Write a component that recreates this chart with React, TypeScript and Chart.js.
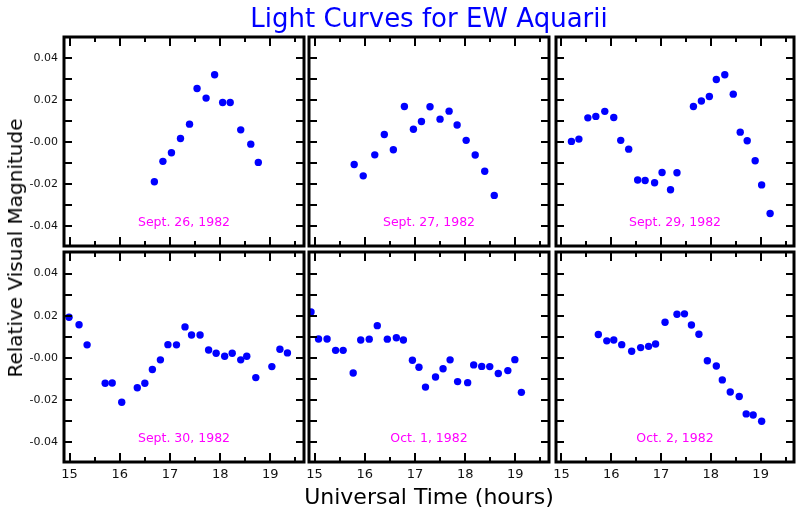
import React, { useEffect, useRef } from "react";
import { Chart, registerables } from "chart.js";

Chart.register(...registerables);
Chart.defaults.font.family = '"DejaVu Sans", sans-serif';

// ---- data (Universal Time in hours, relative visual magnitude) ----
const sept26Hours = [16.69, 16.86, 17.03, 17.21, 17.39, 17.54, 17.72, 17.89, 18.05, 18.2, 18.41, 18.61, 18.76];
const sept26Mag = [-0.0187, -0.009, -0.0049, 0.0019, 0.0087, 0.0257, 0.0211, 0.0322, 0.019, 0.019, 0.006, -0.0008, -0.0095];

const sept27Hours = [15.79, 15.97, 16.2, 16.39, 16.57, 16.79, 16.97, 17.13, 17.3, 17.5, 17.68, 17.84, 18.02, 18.2, 18.39, 18.58];
const sept27Mag = [-0.0105, -0.0159, -0.0059, 0.0038, -0.0035, 0.0171, 0.0063, 0.01, 0.017, 0.0111, 0.0149, 0.0083, 0.001, -0.006, -0.0137, -0.0252];

const sept29Hours = [15.2, 15.35, 15.53, 15.69, 15.87, 16.05, 16.19, 16.35, 16.53, 16.68, 16.87, 17.02, 17.19, 17.32, 17.65, 17.81, 17.97, 18.11, 18.28, 18.45, 18.59, 18.73, 18.89, 19.02, 19.19];
const sept29Mag = [0.0005, 0.0016, 0.0117, 0.0124, 0.0148, 0.0119, 0.001, -0.0032, -0.0179, -0.0181, -0.0192, -0.0143, -0.0225, -0.0144, 0.0171, 0.0197, 0.0219, 0.03, 0.0322, 0.023, 0.0049, 0.0008, -0.0087, -0.0202, -0.0338];

const sept30Hours = [14.99, 15.19, 15.35, 15.71, 15.85, 16.04, 16.35, 16.5, 16.65, 16.81, 16.96, 17.13, 17.3, 17.43, 17.6, 17.77, 17.92, 18.09, 18.24, 18.41, 18.53, 18.71, 19.03, 19.19, 19.34];
const sept30Mag = [0.0193, 0.0157, 0.0062, -0.012, -0.0119, -0.021, -0.0141, -0.012, -0.0055, -0.0009, 0.0063, 0.0062, 0.0147, 0.0109, 0.0109, 0.0038, 0.0022, 0.0008, 0.0022, -0.0009, 0.0008, -0.0093, -0.0041, 0.0041, 0.0024];

const oct1Hours = [14.93, 15.08, 15.25, 15.42, 15.57, 15.77, 15.92, 16.09, 16.25, 16.45, 16.63, 16.77, 16.95, 17.08, 17.21, 17.41, 17.56, 17.7, 17.85, 18.05, 18.17, 18.33, 18.49, 18.66, 18.85, 18.99, 19.12];
const oct1Mag = [0.0218, 0.009, 0.009, 0.0036, 0.0036, -0.0071, 0.0085, 0.0089, 0.0153, 0.0089, 0.0096, 0.0085, -0.0011, -0.0044, -0.0138, -0.009, -0.0051, -0.0009, -0.0112, -0.0117, -0.0033, -0.004, -0.0041, -0.0074, -0.006, -0.0008, -0.0163];

const oct2Hours = [15.74, 15.91, 16.05, 16.21, 16.41, 16.59, 16.75, 16.89, 17.08, 17.32, 17.47, 17.61, 17.76, 17.93, 18.11, 18.23, 18.39, 18.57, 18.71, 18.85, 19.02];
const oct2Mag = [0.0111, 0.0081, 0.0085, 0.0063, 0.0032, 0.0049, 0.0055, 0.0066, 0.0169, 0.0207, 0.0209, 0.0156, 0.0112, -0.0013, -0.0038, -0.0104, -0.0161, -0.0183, -0.0265, -0.027, -0.03];

const nightLabels = ["Sept. 26, 1982", "Sept. 27, 1982", "Sept. 29, 1982", "Sept. 30, 1982", "Oct. 1, 1982", "Oct. 2, 1982"];
const xTickValues = [15, 16, 17, 18, 19];
const xMinorTickValues = [15.5, 16.5, 17.5, 18.5, 19.5];
const yTickValues = [0.04, 0.02, 0, -0.02, -0.04];
const yMinorTickValues = [0.03, 0.01, -0.01, -0.03];

const nights = [
  { hours: sept26Hours, mags: sept26Mag },
  { hours: sept27Hours, mags: sept27Mag },
  { hours: sept29Hours, mags: sept29Mag },
  { hours: sept30Hours, mags: sept30Mag },
  { hours: oct1Hours, mags: oct1Mag },
  { hours: oct2Hours, mags: oct2Mag },
];

// ---- layout ----
const X_MIN = 14.89;
const X_MAX = 19.67;
const Y_MIN = -0.0493;
const Y_MAX = 0.0502;
const COL_LEFT = [64, 309, 556];
const COL_WIDTH = [240, 240, 238];
const ROW_TOP = [37, 252];
const ROW_HEIGHT = [209, 210];
const PAD_L = 60;
const PAD_T = 5;
const PAD_R = 5;
const PAD_B = 30;

const framePlugin = {
  id: "frame",
  afterDraw(chart: any, _args: any, opts: any) {
    const { ctx, chartArea: a, scales } = chart;
    const xs = scales.x;
    const ys = scales.y;
    ctx.save();
    ctx.strokeStyle = "#000";
    ctx.lineWidth = 3;
    ctx.strokeRect(a.left, a.top, a.right - a.left, a.bottom - a.top);
    ctx.lineWidth = 2;
    ctx.beginPath();
    const xTick = (v: number, len: number) => {
      const x = Math.round(xs.getPixelForValue(v));
      ctx.moveTo(x, a.bottom);
      ctx.lineTo(x, a.bottom - len);
      ctx.moveTo(x, a.top);
      ctx.lineTo(x, a.top + len);
    };
    const yTick = (v: number, len: number) => {
      const y = Math.round(ys.getPixelForValue(v));
      ctx.moveTo(a.left, y);
      ctx.lineTo(a.left + len, y);
      ctx.moveTo(a.right, y);
      ctx.lineTo(a.right - len, y);
    };
    xTickValues.forEach((v) => xTick(v, 9));
    xMinorTickValues.forEach((v) => xTick(v, 5));
    yTickValues.forEach((v) => yTick(v, 8));
    yMinorTickValues.forEach((v) => yTick(v, 8));
    ctx.stroke();
    ctx.fillStyle = "#ff00ff";
    ctx.font = '12.5px "DejaVu Sans"';
    ctx.textAlign = "center";
    ctx.textBaseline = "middle";
    ctx.fillText(opts.text, (a.left + a.right) / 2, ys.getPixelForValue(-0.0384));
    ctx.restore();
  },
};

const zeroPadding = (s: any) => {
  s.paddingTop = 0;
  s.paddingBottom = 0;
  s.paddingLeft = 0;
  s.paddingRight = 0;
};

function Panel(props: { index: number }) {
  const ref = useRef<HTMLCanvasElement>(null);
  const { index } = props;
  const col = index % 3;
  const row = Math.floor(index / 3);
  const showY = col === 0;
  const showX = row === 1;
  const w = COL_WIDTH[col] + PAD_L + PAD_R;
  const h = ROW_HEIGHT[row] + PAD_T + PAD_B;
  const left = COL_LEFT[col] - PAD_L;
  const top = ROW_TOP[row] - PAD_T;

  useEffect(() => {
    const night = nights[index];
    const chart = new Chart(ref.current as HTMLCanvasElement, {
      type: "scatter",
      data: {
        datasets: [
          {
            data: night.hours.map((x, i) => ({ x, y: night.mags[i] })),
            backgroundColor: "#0000ff",
            borderWidth: 0,
            pointRadius: 3.7,
            pointBorderWidth: 0,
          },
        ],
      },
      options: {
        animation: false,
        responsive: false,
        devicePixelRatio: 1,
        layout: { autoPadding: false, padding: { left: 0, top: PAD_T, right: PAD_R, bottom: 0 } },
        plugins: {
          legend: { display: false },
          tooltip: { enabled: false },
          frame: { text: nightLabels[index] },
        } as any,
        scales: {
          x: {
            type: "linear",
            min: X_MIN,
            max: X_MAX,
            grid: { display: false, drawTicks: false },
            border: { display: false },
            ticks: {
              display: showX,
              color: "#111",
              font: { size: 13 },
              padding: 5,
              autoSkip: false,
              maxRotation: 0,
            },
            afterBuildTicks: (s: any) => {
              s.ticks = xTickValues.map((v) => ({ value: v }));
            },
            afterFit: (s: any) => {
              s.height = PAD_B;
              zeroPadding(s);
            },
          },
          y: {
            type: "linear",
            min: Y_MIN,
            max: Y_MAX,
            grid: { display: false, drawTicks: false },
            border: { display: false },
            ticks: {
              display: showY,
              color: "#111",
              font: { size: 11 },
              padding: 6,
              autoSkip: false,
              callback: (v: any) => (Number(v) === 0 ? "-0.00" : Number(v).toFixed(2)),
            },
            afterBuildTicks: (s: any) => {
              s.ticks = yTickValues.map((v) => ({ value: v }));
            },
            afterFit: (s: any) => {
              s.width = PAD_L;
              zeroPadding(s);
            },
          },
        },
      },
      plugins: [framePlugin],
    } as any);
    return () => chart.destroy();
  }, [index]);

  return (
    <canvas
      ref={ref}
      width={w}
      height={h}
      style={{ position: "absolute", left, top, width: w, height: h }}
    />
  );
}

export default function App() {
  const font = '"DejaVu Sans", sans-serif';
  return (
    <div style={{ position: "absolute", left: 0, top: 0, width: 800, height: 520, background: "#fff", overflow: "hidden" }}>
      {[0, 1, 2, 3, 4, 5].map((i) => (
        <Panel key={i} index={i} />
      ))}
      <div
        style={{
          position: "absolute",
          left: 429,
          top: 18,
          transform: "translate(-50%, -50%)",
          fontFamily: font,
          fontSize: 26,
          color: "#0000ff",
          whiteSpace: "nowrap",
        }}
      >
        Light Curves for EW Aquarii
      </div>
      <div
        style={{
          position: "absolute",
          left: 429,
          top: 496,
          transform: "translate(-50%, -50%)",
          fontFamily: font,
          fontSize: 22,
          color: "#000",
          whiteSpace: "nowrap",
        }}
      >
        Universal Time (hours)
      </div>
      <div
        style={{
          position: "absolute",
          left: 15,
          top: 248,
          transform: "translate(-50%, -50%) rotate(-90deg)",
          fontFamily: font,
          fontSize: 20,
          color: "#000",
          whiteSpace: "nowrap",
        }}
      >
        Relative Visual Magnitude
      </div>
    </div>
  );
}
